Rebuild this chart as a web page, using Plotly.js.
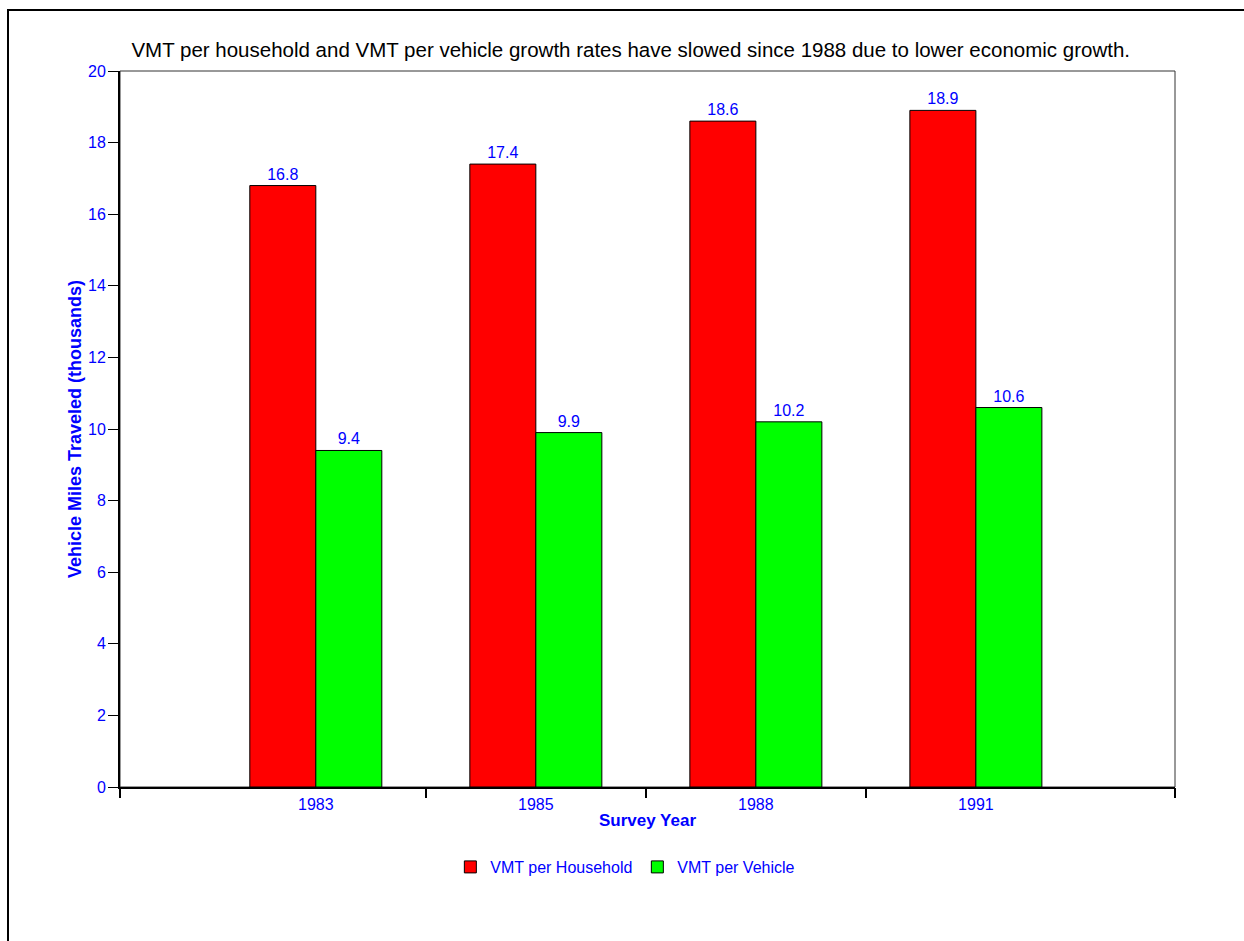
<!DOCTYPE html>
<html><head><meta charset="utf-8">
<script src="https://cdn.plot.ly/plotly-3.0.1.min.js"></script>
<style>html,body{margin:0;padding:0;background:#fff;}#chart{width:1244px;height:941px;}</style>
</head><body><div id="chart"></div>
<script>
const years = ['1983', '1985', '1988', '1991'];
const vmtHousehold = [16.8, 17.4, 18.6, 18.9];
const vmtVehicle = [9.4, 9.9, 10.2, 10.6];
const seriesNames = ['VMT per Household', 'VMT per Vehicle'];
const boundaryTicks = [0.5, 1.5, 2.5];

const FONT = 'Liberation Sans, Arial, sans-serif';
const BLUE = '#0000ff';

const traces = [
  {type: 'bar', x: years, y: vmtHousehold, name: seriesNames[0],
   marker: {color: '#ff0000', line: {color: '#000', width: 1}},
   text: vmtHousehold.map(v => v.toFixed(1)), textposition: 'outside',
   textfont: {color: BLUE, size: 16, family: FONT}, cliponaxis: false},
  {type: 'bar', x: years, y: vmtVehicle, name: seriesNames[1],
   marker: {color: '#00ff00', line: {color: '#000', width: 1}},
   text: vmtVehicle.map(v => v.toFixed(1)), textposition: 'outside',
   textfont: {color: BLUE, size: 16, family: FONT}, cliponaxis: false},
  {type: 'scatter', x: boundaryTicks, y: boundaryTicks.map(() => null), xaxis: 'x2', yaxis: 'y',
   showlegend: false, hoverinfo: 'skip', mode: 'markers'}
];

const xr = [-0.89, 3.905];
const layout = {
  width: 1244, height: 941,
  paper_bgcolor: '#fff', plot_bgcolor: '#fff',
  font: {family: FONT, color: BLUE, size: 16},
  margin: {l: 120, r: 69, t: 71, b: 154},
  title: {text: 'VMT per household and VMT per vehicle growth rates have slowed since 1988 due to lower economic growth.',
          font: {family: FONT, size: 20.5, color: '#000'}, x: 0.507, xanchor: 'center',
          y: 1 - 50/941, yref: 'container', yanchor: 'middle'},
  barmode: 'group', bargap: 0.4, bargroupgap: 0,
  xaxis: {type: 'category', range: xr, showgrid: false, zeroline: false,
          showline: true, linecolor: '#000', linewidth: 2, ticks: '',
          tickfont: {color: BLUE, size: 16, family: FONT}, ticklabelstandoff: 2,
          title: {text: '<b>Survey Year</b>', font: {color: BLUE, size: 17, family: FONT}, standoff: 2}},
  xaxis2: {overlaying: 'x', side: 'bottom', range: xr, tickmode: 'array', tickvals: [xr[0]].concat(boundaryTicks, [xr[1]]),
           showticklabels: false, ticks: 'outside', ticklen: 10, tickwidth: 1.5, tickcolor: '#000',
           showgrid: false, zeroline: false, showline: false},
  yaxis: {range: [0, 20], dtick: 2, showgrid: false, zeroline: false,
          showline: true, linecolor: '#000', linewidth: 2,
          ticks: 'outside', ticklen: 10, tickwidth: 1, tickcolor: '#000',
          tickfont: {color: BLUE, size: 16, family: FONT}, ticklabelstandoff: -1,
          title: {text: '<b>Vehicle Miles Traveled (thousands)</b>', font: {color: BLUE, size: 18, family: FONT}, standoff: 2}},
  legend: {orientation: 'h', x: 0.479, xanchor: 'center', y: (787-867)/716, yanchor: 'middle',
           font: {color: BLUE, size: 16, family: FONT}, itemclick: false},
  shapes: [
    {type: 'rect', xref: 'paper', yref: 'paper', x0: 0, x1: 1, y0: 0, y1: 1,
     line: {color: '#333', width: 1}, layer: 'below'},
    {type: 'rect', xref: 'paper', yref: 'paper', x0: (8-120)/1055, x1: 1.3, y0: -0.4, y1: (787-10)/716,
     line: {color: '#000', width: 2}}
  ]
};
Plotly.newPlot('chart', traces, layout, {displayModeBar: false, staticPlot: true});
</script></body></html>
